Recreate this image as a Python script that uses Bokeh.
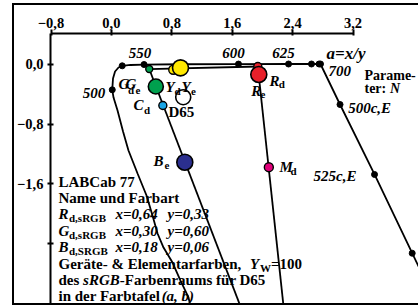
from bokeh.plotting import figure
from bokeh.models import Range1d, FixedTicker, CustomJSTickFormatter, Label
from bokeh.embed import file_html
from bokeh.resources import INLINE
import math

# ---------------- data (a = x/y, b = -0.40 z/y) ----------------
locus_a = [1.048, 1.021, 0.915, 0.809, 0.690, 0.611, 0.544, 0.465, 0.346, 0.226,
           0.154, 0.081, 0.028, 0.011, 0.021, 0.048, 0.094, 0.143, 0.253, 0.432,
           0.915, 1.683, 2.346, 2.650, 2.750, 2.769]
locus_b = [-3.233, -3.113, -2.887, -2.647, -2.447, -2.260, -2.020, -1.753, -1.460, -1.153,
           -0.900, -0.620, -0.447, -0.344, -0.193, -0.100, -0.047, -0.024, -0.013, -0.007,
           -0.003, -0.001, 0.0, 0.0, 0.0, 0.0]
locus_dot_a = [0.011, 0.143, 0.432, 0.915, 1.683, 2.346, 2.650, 2.750, 2.769]
locus_dot_b = [-0.344, -0.024, -0.007, -0.003, -0.001, 0.0, 0.0, 0.0, 0.0]

comp_a = [2.769, 3.028, 3.485, 3.984, 4.150]
comp_b = [0.0, -0.540, -1.473, -2.523, -2.870]
comp_dot_a = [3.028, 3.485, 3.984]
comp_dot_b = [-0.540, -1.473, -2.523]

rg_a = [0.501, 1.939]
rg_b = [-0.067, -0.033]
gb_a = [0.501, 1.710]
gb_b = [-0.067, -3.233]
rb_a = [1.939, 2.280]
rb_b = [-0.033, -3.233]

small_names = ["Gd", "Yd", "Rd", "Cd", "Md"]
small_a = [0.501, 0.819, 1.939, 0.681, 2.085]
small_b = [-0.067, -0.077, -0.033, -0.553, -1.376]
small_col = ["#00a04e", "#ffe800", "#e8202a", "#1aa6e6", "#e0007a"]
small_size = [7, 9, 8, 8, 9]

big_names = ["Ge", "Ye", "Re", "Be", "D65"]
big_a = [0.588, 0.915, 1.952, 0.972, 0.951]
big_b = [-0.300, -0.051, -0.140, -1.309, -0.443]
big_col = ["#00a04e", "#ffe800", "#e8202a", "#2b2f8f", "#ffffff"]
big_size = [15, 16, 16, 16, 15]

x_ticks = [-0.8, 0.0, 0.8, 1.6, 2.4, 3.2]
y_ticks = [0.0, -0.8, -1.6, -2.4]

FONT = "Liberation Serif"

p = figure(width=406, height=302,
           x_range=Range1d(-0.807, 4.094), y_range=Range1d(-3.2467, 0.4067),
           x_axis_location="above", output_backend="svg", toolbar_location=None,
           min_border_left=36, min_border_right=0, min_border_top=28, min_border_bottom=0,
           styles={"margin-left": "12px", "margin-top": "3px", "box-sizing": "border-box",
                   "border-left": "2px solid black", "border-top": "2px solid black",
                   "border-bottom": "2px solid black"})
p.outline_line_color = None
p.xgrid.visible = False
p.ygrid.visible = False
p.background_fill_color = "white"
p.border_fill_color = "white"

fmt = CustomJSTickFormatter(code="""
if (Math.abs(tick + 2.4) < 1e-6) { return ""; }
var s = Math.abs(tick).toFixed(1).replace(".", ",");
return (tick < -1e-9 ? "\u2212" : "") + s;
""")

xa = p.xaxis[0]
xa.ticker = FixedTicker(ticks=x_ticks)
xa.formatter = fmt
xa.bounds = (-0.8, 3.2)
xa.axis_line_width = 2
xa.major_tick_line_width = 2
xa.major_tick_out = 4
xa.major_tick_in = 2
xa.minor_tick_line_color = None
xa.major_label_standoff = 2
xa.major_label_text_font = FONT
xa.major_label_text_font_style = "bold"
xa.major_label_text_font_size = "14.5px"
xa.major_label_text_color = "black"

ya = p.yaxis[0]
ya.ticker = FixedTicker(ticks=y_ticks)
ya.formatter = fmt
ya.axis_line_width = 2
ya.major_tick_line_width = 2
ya.major_tick_out = 3
ya.major_tick_in = 3
ya.minor_tick_line_color = None
ya.major_label_standoff = 4
ya.major_label_text_font = FONT
ya.major_label_text_font_style = "bold"
ya.major_label_text_font_size = "14.5px"
ya.major_label_text_color = "black"

LW = 1.8
p.line(locus_a, locus_b, line_color="black", line_width=LW)
p.line(comp_a, comp_b, line_color="black", line_width=LW)
p.line(rg_a, rg_b, line_color="black", line_width=LW)
p.line(gb_a, gb_b, line_color="black", line_width=LW)
p.line(rb_a, rb_b, line_color="black", line_width=LW)
p.scatter(locus_dot_a, locus_dot_b, marker="circle", size=6, fill_color="black", line_color="black")
p.scatter(comp_dot_a, comp_dot_b, marker="circle", size=6, fill_color="black", line_color="black")
p.scatter(small_a, small_b, marker="circle", size=small_size, fill_color=small_col,
          line_color="black", line_width=1.4)
p.scatter(big_a, big_b, marker="circle", size=big_size, fill_color=big_col,
          line_color="black", line_width=1.6)


def lab(x, y, text, size="15px", style="bold", align="left", baseline="middle", angle=0.0):
    p.add_layout(Label(x=x, y=y, text=text, text_font=FONT, text_font_size=size,
                       text_font_style=style, text_align=align, text_baseline=baseline,
                       text_color="black", angle=angle))


BI = "bold italic"
SUB = "11px"
# wavelength labels
lab(0.379, 0.153, "550", style=BI, align="center")
lab(1.617, 0.153, "600", style=BI, align="center")
lab(2.279, 0.153, "625", style=BI, align="center")
lab(2.849, 0.140, "a=x/y", size="17px", style=BI)
lab(2.875, -0.087, "700", style=BI)
lab(3.352, -0.153, "Parame-", size="14px")
lab(3.352, -0.327, "ter:", size="14px")
lab(3.690, -0.327, "N", size="14px", style=BI)
lab(3.136, -0.580, "500c,E", style=BI)
lab(3.246, -1.487, "525c,E", style=BI, align="right")
lab(-0.230, -0.380, "500", style=BI, align="center")
# colour labels
lab(2.226, -1.376, "M", style=BI)
lab(2.372, -1.433, "d", size=SUB)
lab(2.095, -0.227, "R", style=BI)
lab(2.217, -0.273, "d", size=SUB)
lab(1.852, -0.360, "R", style=BI)
lab(1.975, -0.400, "e", size=SUB)
lab(0.717, -0.300, "Y", style=BI)
lab(0.836, -0.360, "d", size=SUB)
lab(0.929, -0.300, "Y", style=BI)
lab(1.054, -0.360, "e", size=SUB)
lab(0.095, -0.273, "G", style=BI)
lab(0.220, -0.353, "d", size=SUB)
lab(0.187, -0.273, "G", style=BI)
lab(0.319, -0.353, "e", size=SUB)
lab(0.293, -0.540, "C", style=BI)
lab(0.432, -0.607, "d", size=SUB)
lab(0.756, -0.640, "D65")
lab(0.558, -1.287, "B", style=BI)
lab(0.703, -1.353, "e", size=SUB)

# text block
X0 = -0.701
rows = [-1.567, -1.786, -2.005, -2.224, -2.443, -2.662, -2.881, -3.100]
SO = -0.055
lab(X0, rows[0], "LABCab 77")
lab(X0, rows[1], "Name und Farbart")
for r, letter, sub, xs, ys in [(rows[2], "R", "d,sRGB", "x=0,64", "y=0,33"),
                               (rows[3], "G", "d,sRGB", "x=0,30", "y=0,60"),
                               (rows[4], "B", "d,SRGB", "x=0,18", "y=0,06")]:
    lab(X0, r, letter, style=BI)
    lab(-0.562, r + SO, sub, size=SUB)
    lab(0.054, r, xs, style=BI)
    lab(0.743, r, ys, style=BI)
lab(X0, rows[5], "Geräte- & Elementarfarben,")
lab(1.836, rows[5], "Y", style=BI)
lab(1.968, rows[5] + SO, "W", size=SUB)
lab(2.114, rows[5], "=100")
lab(X0, rows[6], "des")
lab(-0.375, rows[6], "sRGB", style=BI)
lab(0.111, rows[6], "-Farbenraums für D65")
lab(X0, rows[7], "in der Farbtafel")
lab(0.665, rows[7], "(a, b)", style=BI)

# rotated axis title
ang = math.pi / 2
lab(-1.045, -3.153, "b", style=BI, angle=ang)
lab(-1.045, -2.953, "=\u22120,40", angle=ang)
lab(-1.045, -2.287, "z/y", style=BI, angle=ang)

open("out.html", "w").write(file_html(p, INLINE))
